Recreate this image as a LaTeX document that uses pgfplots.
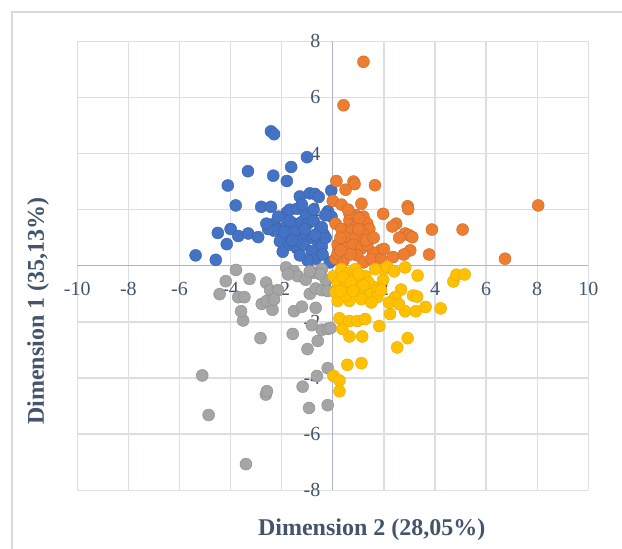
\documentclass[border=0pt]{standalone}
\usepackage{pgfplots}
\usepackage{pgfplotstable}
\pgfplotsset{compat=1.18}
\usepackage{fontspec}
\setmainfont{Liberation Serif}

\definecolor{xblue}{HTML}{4472C4}
\definecolor{xorange}{HTML}{ED7D31}
\definecolor{xgray}{HTML}{A5A5A5}
\definecolor{xyellow}{HTML}{FFC000}
\definecolor{gridc}{HTML}{D9DEE7}
\definecolor{axisc}{HTML}{A9B4C6}
\definecolor{textc}{HTML}{44546A}
\definecolor{framec}{HTML}{D9D9D9}

% cluster 1 (blue)
\pgfplotstableread{
x y
-2.42 4.79
-2.30 4.69
-1.01 3.87
-1.63 3.52
-3.32 3.37
-2.33 3.21
-1.80 3.02
-4.11 2.86
-3.80 2.15
-2.80 2.10
-2.42 2.10
-1.29 2.47
-0.90 2.58
-0.70 2.56
-0.06 2.68
-1.80 1.90
-1.68 2.00
-1.40 2.03
-0.19 1.94
-0.05 1.75
-4.50 1.17
-4.00 1.31
-3.70 1.06
-3.31 1.15
-2.92 1.02
-4.15 0.77
-5.37 0.37
-4.58 0.21
-2.30 1.50
-2.14 1.31
-1.83 1.40
-1.52 1.50
-1.21 1.56
-0.98 1.50
-0.75 1.60
-0.51 1.25
-0.36 1.12
-0.59 0.87
-0.43 0.69
-0.90 1.00
-1.21 1.12
-1.52 1.19
-1.83 1.00
-2.07 0.87
-2.30 1.25
-2.53 1.31
-1.96 0.50
-1.68 0.75
-1.40 0.62
-1.13 0.75
-0.82 0.52
-0.67 0.25
-0.98 0.19
-1.29 0.37
-0.12 0.12
-0.28 1.00
-0.43 1.37
-1.44 0.87
-2.14 1.75
-1.06 1.87
-1.21 2.18
-0.75 2.00
-1.90 1.20
-1.60 0.90
-1.10 1.30
-0.70 1.10
-0.40 0.40
-1.70 1.60
-2.60 1.50
-0.30 1.80
-0.55 2.45
}\blue

% cluster 2 (orange)
\pgfplotstableread{
x y
1.20 7.27
0.42 5.72
8.04 2.15
6.74 0.25
5.08 1.29
3.88 1.29
3.77 0.40
2.93 2.12
2.95 2.02
2.83 1.15
2.98 1.09
3.11 1.02
2.48 1.50
2.33 1.40
1.97 1.85
1.65 2.87
0.81 3.00
0.85 2.91
0.14 3.02
0.50 2.71
0.00 2.31
0.34 2.18
1.12 2.21
3.03 0.55
2.78 0.40
2.36 0.31
1.89 0.56
1.58 0.47
0.11 1.50
0.34 1.31
0.65 1.62
0.89 1.81
1.20 1.75
1.35 1.50
1.43 1.31
0.96 1.44
0.73 1.25
0.50 1.00
0.89 1.00
1.20 1.12
0.19 0.75
0.50 0.62
0.81 0.75
1.12 0.62
1.35 0.75
0.11 0.25
0.42 0.19
0.96 0.37
1.20 0.12
1.51 0.25
1.89 0.25
0.65 1.87
1.04 1.69
0.19 0.44
0.30 1.00
0.70 0.40
1.00 1.30
1.30 0.90
0.60 2.00
0.30 0.55
1.60 1.00
2.00 0.60
2.60 1.00
}\orange

% cluster 3 (gray)
\pgfplotstableread{
x y
-3.40 -7.07
-4.86 -5.32
-5.11 -3.91
-2.62 -4.59
-2.58 -4.47
-1.18 -4.31
-0.93 -5.07
-0.20 -4.97
-0.62 -3.93
-0.20 -3.65
-2.83 -2.58
-0.99 -2.97
-0.59 -2.68
-1.57 -2.43
-0.43 -2.28
-0.20 -2.25
-0.09 -2.22
-0.82 -2.12
-3.51 -1.95
-3.59 -1.62
-4.43 -1.01
-4.19 -0.55
-3.79 -0.15
-3.26 -0.47
-3.70 -1.12
-3.46 -1.12
-2.78 -1.36
-2.36 -1.57
-2.58 -1.25
-2.61 -0.60
-2.45 -0.87
-1.52 -1.62
-1.21 -1.46
-0.67 -1.50
-1.83 -0.06
-1.52 -0.19
-1.37 -0.37
-1.75 -0.31
-2.14 -0.87
-0.90 -1.00
-0.67 -0.81
-0.43 -0.87
-0.75 -0.25
-0.43 -0.12
-1.06 -0.50
-0.28 -0.50
-0.50 -0.30
-0.90 -0.20
-0.20 -0.90
-2.30 -1.20
}\gray

% cluster 4 (yellow)
\pgfplotstableread{
x y
0.03 -3.93
0.26 -4.09
0.26 -4.47
0.57 -3.53
1.12 -3.47
2.52 -2.91
2.93 -2.58
0.65 -2.52
1.15 -2.52
1.82 -2.15
0.26 -1.87
0.37 -2.25
0.65 -1.97
0.96 -1.97
1.27 -1.90
2.24 -1.72
2.83 -1.62
3.25 -1.62
3.63 -1.47
4.22 -1.52
4.72 -0.56
4.84 -0.32
5.16 -0.31
3.32 -0.35
2.83 -0.06
3.14 -1.06
2.67 -0.85
2.44 -1.12
2.20 -1.31
2.59 -1.37
1.97 -0.50
2.02 -0.12
1.66 -0.12
2.13 -0.04
0.03 -0.37
0.34 -0.12
0.65 -0.25
0.89 -0.12
0.19 -0.62
0.50 -0.75
0.81 -0.50
1.27 -0.37
1.58 -0.75
1.35 -1.00
1.04 -0.94
0.65 -1.25
0.19 -1.25
0.50 -1.06
1.74 -1.12
1.89 -0.87
1.12 -1.19
1.51 -1.31
0.11 -0.94
0.96 -0.69
0.40 -0.40
0.70 -0.60
1.00 -0.30
1.40 -0.60
0.30 -0.90
0.80 -0.90
1.20 -0.70
2.40 -0.20
3.30 -1.10
}\yellow

\begin{document}
\begin{tikzpicture}
\useasboundingbox (0,0) rectangle (622pt,549pt);
% chart frame (only left and top edges are inside the picture)
\draw[framec, line width=1.2pt] (12pt,0) -- (12pt,537pt) -- (630pt,537pt);

\begin{axis}[
    at={(77.3pt,58.8pt)}, anchor=south west,
    width=511pt, height=448.9pt, scale only axis,
    xmin=-10, xmax=10, ymin=-8, ymax=8,
    axis lines=middle,
    axis line style={-, axisc, line width=1.3pt},
    xtick={-10,-8,...,10}, ytick={-8,-6,...,8},
    xticklabels={-10,-8,-6,-4,-2,0,2,4,6,8,10},
    yticklabels={-8,-6,-4,-2,0,2,4,6,8},
    hide obscured x ticks=false, hide obscured y ticks=false,
    major tick length=0pt,
    grid=major,
    major grid style={gridc, line width=1.3pt},
    tick label style={font=\fontsize{20}{24}\selectfont, text=textc},
    xticklabel style={anchor=north, yshift=-13pt},
    yticklabel style={anchor=east, xshift=-9pt},
    clip=false,
    every axis plot/.append style={only marks, mark=*, mark size=6pt},
]
\addplot[mark options={fill=xblue, draw=xblue!85!black, line width=0.4pt}] table {\blue};
\addplot[mark options={fill=xgray, draw=xgray!85!black, line width=0.4pt}] table {\gray};
\addplot[mark options={fill=xorange, draw=xorange!85!black, line width=0.4pt}] table {\orange};
\addplot[mark options={fill=xyellow, draw=xyellow!90!black, line width=0.4pt}] table {\yellow};
\end{axis}

\node[font=\fontsize{24}{28}\selectfont\bfseries, text=textc] at (371.7pt,19pt) {Dimension 2 (28,05\%)};
\node[font=\fontsize{24}{28}\selectfont\bfseries, text=textc, rotate=90] at (38pt,238pt) {Dimension 1 (35,13\%)};
\end{tikzpicture}
\end{document}
